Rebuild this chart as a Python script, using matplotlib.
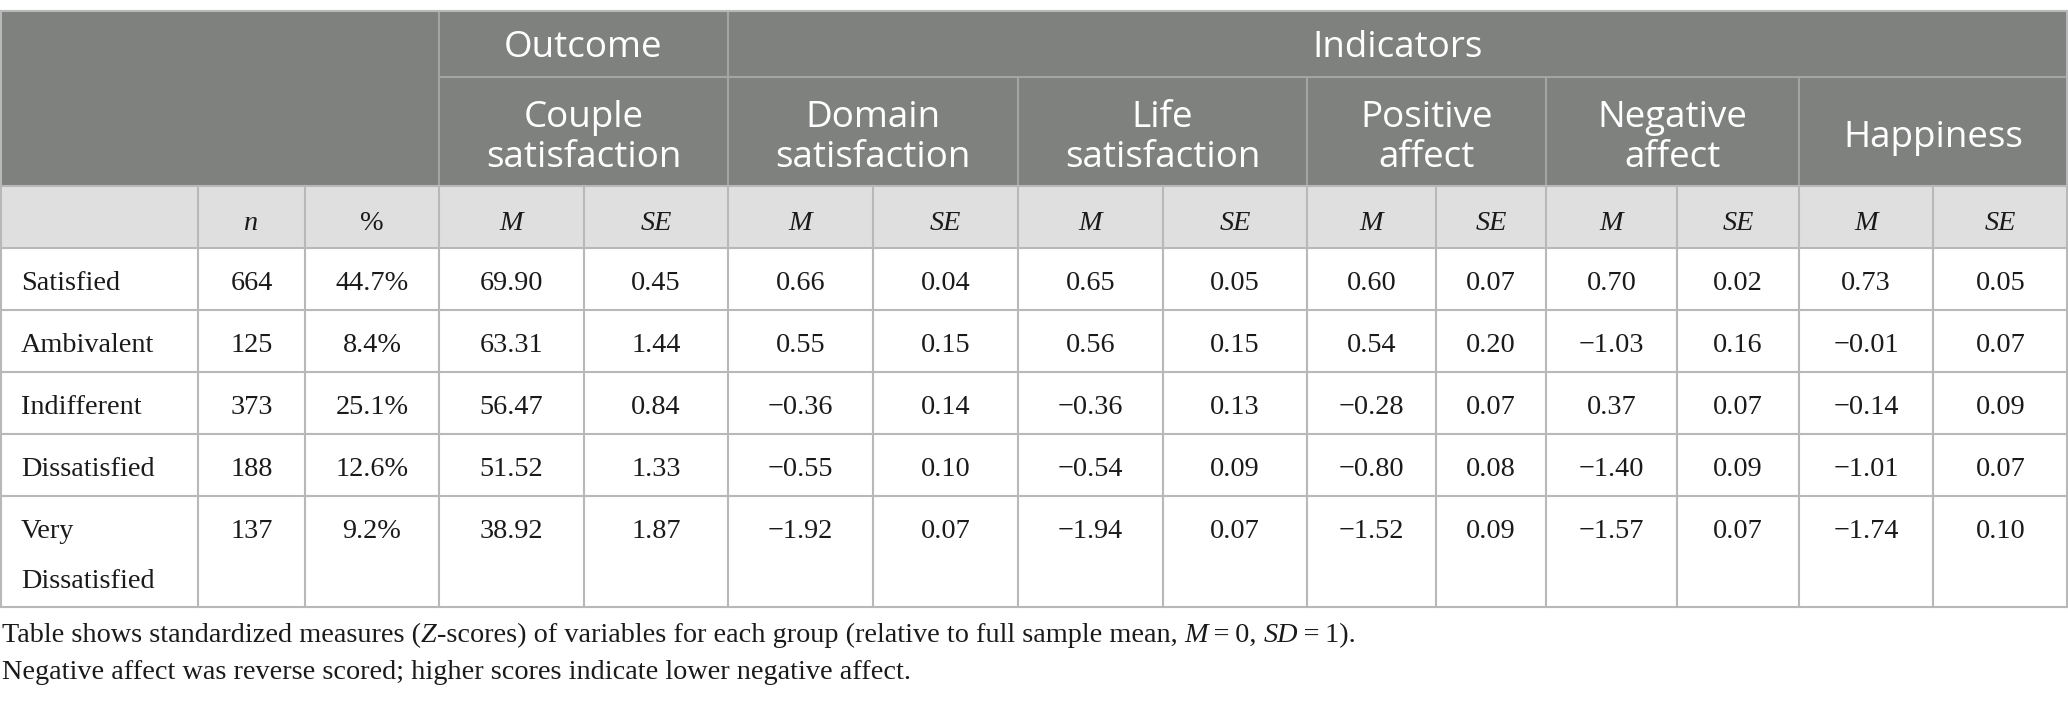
import matplotlib
matplotlib.use("Agg")
import matplotlib.pyplot as plt
from matplotlib.patches import Rectangle

# ---------------- data ----------------
groups = ["Satisfied", "Ambivalent", "Indifferent", "Dissatisfied", "Very\nDissatisfied"]
n_vals = ["664", "125", "373", "188", "137"]
pct_vals = ["44.7%", "8.4%", "25.1%", "12.6%", "9.2%"]
couple_m = ["69.90", "63.31", "56.47", "51.52", "38.92"]
couple_se = ["0.45", "1.44", "0.84", "1.33", "1.87"]
domain_m = ["0.66", "0.55", "\u22120.36", "\u22120.55", "\u22121.92"]
domain_se = ["0.04", "0.15", "0.14", "0.10", "0.07"]
life_m = ["0.65", "0.56", "\u22120.36", "\u22120.54", "\u22121.94"]
life_se = ["0.05", "0.15", "0.13", "0.09", "0.07"]
pos_m = ["0.60", "0.54", "\u22120.28", "\u22120.80", "\u22121.52"]
pos_se = ["0.07", "0.20", "0.07", "0.08", "0.09"]
neg_m = ["0.70", "\u22121.03", "0.37", "\u22121.40", "\u22121.57"]
neg_se = ["0.02", "0.16", "0.07", "0.09", "0.07"]
hap_m = ["0.73", "\u22120.01", "\u22120.14", "\u22121.01", "\u22121.74"]
hap_se = ["0.05", "0.07", "0.09", "0.07", "0.10"]

top_headers = ["Outcome", "Indicators"]
measure_headers = ["Couple\nsatisfaction", "Domain\nsatisfaction", "Life\nsatisfaction",
                   "Positive\naffect", "Negative\naffect", "Happiness"]
sub_headers = ["", "n", "%"] + ["M", "SE"] * 6

columns = [n_vals, pct_vals, couple_m, couple_se, domain_m, domain_se, life_m, life_se,
           pos_m, pos_se, neg_m, neg_se, hap_m, hap_se]

# ---------------- layout ----------------
W, H = 2068, 701
col_x = [0, 198, 305, 439, 584, 728, 873, 1018, 1163, 1307, 1436, 1546, 1677, 1799, 1933, 2068]
y_top, y_h1, y_h2, y_sub = 10.5, 76.5, 186, 248
row_y = [248, 310, 372, 434, 496, 607]

DARK = "#7f817f"
LIGHT = "#e0dfe0"
GRID = "#b8b8b8"
HGRID = "#a3a5a3"
TXT = "#1a1a1a"

SANS = ["Open Sans", "DejaVu Sans"]
SERIF = ["Liberation Serif", "DejaVu Serif"]
HFS = 26.5
BFS = 20.3

fig = plt.figure(figsize=(W / 100, H / 100), dpi=100)
ax = fig.add_axes([0, 0, 1, 1])
ax.set_xlim(0, W)
ax.set_ylim(H, 0)
ax.axis("off")

# backgrounds
ax.add_patch(Rectangle((0, y_top), W, y_h2 - y_top, color=DARK, lw=0, zorder=0))
ax.add_patch(Rectangle((0, y_h2), W, y_sub - y_h2, color=LIGHT, lw=0, zorder=0))

# header grid lines
ax.plot([col_x[3], W], [y_h1, y_h1], color=HGRID, lw=1.5, zorder=1)
for xi in [3, 5]:
    ax.plot([col_x[xi], col_x[xi]], [y_top, y_h2], color=HGRID, lw=1.5, zorder=1)
for xi in [7, 9, 11, 13]:
    ax.plot([col_x[xi], col_x[xi]], [y_h1, y_h2], color=HGRID, lw=1.5, zorder=1)

# body grid lines
ax.plot([0, W], [y_top, y_top], color=GRID, lw=1.5, zorder=1)
ax.plot([0, W], [y_h2, y_h2], color=GRID, lw=1.5, zorder=1)
for yy in row_y:
    ax.plot([0, W], [yy, yy], color=GRID, lw=1.5, zorder=1)
for xx in col_x[1:-1]:
    ax.plot([xx, xx], [y_h2, row_y[-1]], color=GRID, lw=1.5, zorder=1)
ax.plot([0.8, 0.8], [y_top, row_y[-1]], color=GRID, lw=1.5, zorder=1)
ax.plot([W - 0.8, W - 0.8], [y_top, row_y[-1]], color=GRID, lw=1.5, zorder=1)

# top headers
ax.text((col_x[3] + col_x[5]) / 2, 57, top_headers[0], ha="center", va="baseline",
        color="white", fontsize=HFS, family=SANS)
ax.text((col_x[5] + col_x[-1]) / 2, 57, top_headers[1], ha="center", va="baseline",
        color="white", fontsize=HFS, family=SANS)
for i, lab in enumerate(measure_headers):
    x0, x1 = col_x[3 + 2 * i], col_x[5 + 2 * i]
    ax.text((x0 + x1) / 2, (y_h1 + y_h2) / 2 + 7, lab, ha="center", va="center", color="white",
            fontsize=HFS, family=SANS, linespacing=1.16, multialignment="center")

# sub headers
for i, lab in enumerate(sub_headers):
    if not lab:
        continue
    x0, x1 = col_x[i], col_x[i + 1]
    style = "normal" if lab == "%" else "italic"
    ax.text((x0 + x1) / 2, 230, lab, ha="center", va="baseline", color=TXT,
            fontsize=BFS, family=SERIF, style=style)

# body
for r, g in enumerate(groups):
    yb = row_y[r] + 42
    for k, ln in enumerate(g.split("\n")):
        ax.text(21, yb + 50 * k, ln, ha="left", va="baseline", color=TXT,
                fontsize=BFS, family=SERIF)
    for c, col in enumerate(columns):
        x0, x1 = col_x[c + 1], col_x[c + 2]
        ax.text((x0 + x1) / 2, yb, col[r], ha="center", va="baseline", color=TXT,
                fontsize=BFS, family=SERIF)

# notes with mixed styles
note1 = [("Table shows standardized measures (", "normal"), ("Z", "italic"),
         ("-scores) of variables for each group (relative to full sample mean, ", "normal"),
         ("M", "italic"), ("\u2009=\u20090, ", "normal"), ("SD", "italic"), ("\u2009=\u20091).", "normal")]
note2 = [("Negative affect was reverse scored; higher scores indicate lower negative affect.", "normal")]

fig.canvas.draw()
renderer = fig.canvas.get_renderer()
inv = ax.transData.inverted()


def draw_pieces(pieces, x, y):
    for txt, st in pieces:
        t = ax.text(x, y, txt, ha="left", va="baseline", color=TXT, fontsize=BFS,
                    family=SERIF, style=st)
        bb = t.get_window_extent(renderer=renderer)
        x = inv.transform((bb.x1, bb.y0))[0]


draw_pieces(note1, 2, 642)
draw_pieces(note2, 2, 679)

fig.savefig("out.png", dpi=100, facecolor="white")
